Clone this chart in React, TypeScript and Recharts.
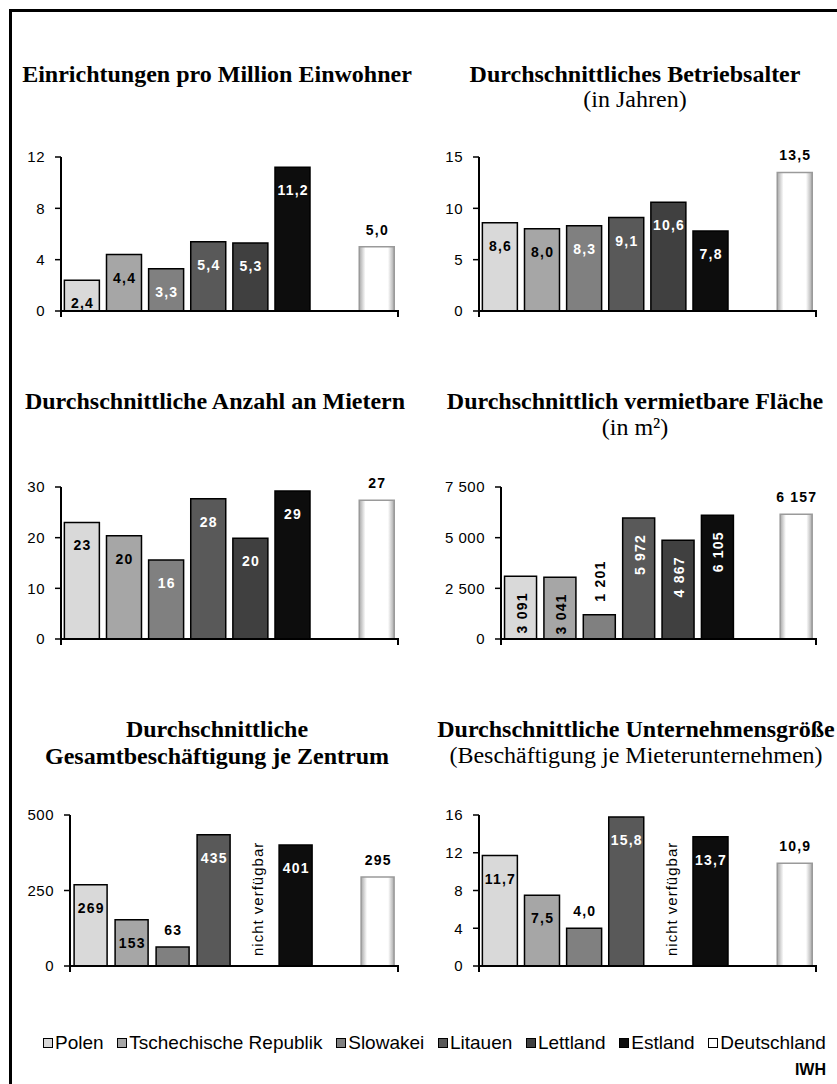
import React from 'react';
import { BarChart, Bar, XAxis, YAxis, Cell, LabelList, ReferenceDot } from 'recharts';

// ---------- data ----------
const categories = ['Polen', 'Tschechische Republik', 'Slowakei', 'Litauen', 'Lettland', 'Estland', '_leer', 'Deutschland'];
const legendLabels = ['Polen', 'Tschechische Republik', 'Slowakei', 'Litauen', 'Lettland', 'Estland', 'Deutschland'];

const einrichtungen = [2.4, 4.4, 3.3, 5.4, 5.3, 11.2, null, 5.0];
const betriebsalter = [8.6, 8.0, 8.3, 9.1, 10.6, 7.8, null, 13.5];
const mieter = [23.0, 20.4, 15.6, 27.7, 19.9, 29.2, null, 27.4];
const flaeche = [3091, 3041, 1201, 5972, 4867, 6105, null, 6157];
const beschaeftigung = [269, 153, 63, 435, null, 401, null, 295];
const unternehmensgroesse = [11.7, 7.5, 4.0, 15.8, null, 13.7, null, 10.9];

const ticksEinrichtungen = [0, 4, 8, 12];
const ticksBetriebsalter = [0, 5, 10, 15];
const ticksMieter = [0, 10, 20, 30];
const ticksFlaeche = [0, 2500, 5000, 7500];
const ticksBeschaeftigung = [0, 250, 500];
const ticksUnternehmen = [0, 4, 8, 12, 16];

const naText = 'nicht verfügbar';

// ---------- styles ----------
const barColors = ['#d9d9d9', '#a6a6a6', '#808080', '#595959', '#404040', '#0d0d0d', '#ffffff', '#ffffff'];
const SANS = "'Liberation Sans', Arial, sans-serif";
const SERIF = "'Liberation Serif', 'Times New Roman', serif";

const fmt1 = (v: number) => v.toFixed(1).replace('.', ',');
const fmt0 = (v: number) => String(Math.round(v));
const fmtK = (v: number) => String(Math.round(v)).replace(/\B(?=(\d{3})+(?!\d))/g, ' ');

type ChartProps = {
  id: string;
  values: (number | null)[];
  max: number;
  ticks: number[];
  axisX: number;
  plotRight: number;
  plotTop: number;
  plotBottom: number;
  tickGap: number;
  catGap: string;
  fmt: (v: number) => string;
  tickFmt?: (v: number) => string;
  outside: number[];
  vertical?: number[];
  naIndex?: number;
};

function SmallChart(p: ChartProps) {
  const yw = 60, topM = 40, rightM = 10, bottomH = 20;
  const plotW = p.plotRight - p.axisX;
  const plotH = p.plotBottom - p.plotTop;
  const width = yw + plotW + rightM;
  const height = topM + plotH + bottomH;
  const data = categories.map((name, i) => ({ name, v: p.values[i] }));
  const band = plotW / categories.length;
  const gid = `grad-${p.id}`;
  const vertical = p.vertical || [];

  const edgeTick = (tp: any) => {
    const { x, y, index, payload } = tp;
    const half = payload && payload.offset ? payload.offset : band / 2;
    if (index === 0) return <line x1={x - half} x2={x - half} y1={y - 1} y2={y + 6} stroke="#000" strokeWidth={2} />;
    if (index === categories.length - 1)
      return <line x1={x + half} x2={x + half} y1={y - 1} y2={y + 6} stroke="#000" strokeWidth={2} />;
    return <g />;
  };

  const renderLabel = (lp: any) => {
    const vb = lp.viewBox && lp.viewBox.width != null ? lp.viewBox : lp;
    const x = Number(vb.x), y = Number(vb.y), w = Number(vb.width);
    const value = lp.value;
    if (value == null || isNaN(x)) return null;
    const idx = p.values.indexOf(Number(value));
    const out = p.outside.includes(idx);
    const color = out || idx <= 1 ? '#000' : '#fff';
    const cx = x + w / 2;
    const common = { fill: color, fontSize: 14, fontWeight: 700, fontFamily: SANS, letterSpacing: 1.2 } as any;
    if (vertical.includes(idx)) {
      const tx = cx + 6;
      const ty = out ? y - 13 : y + 16;
      return (
        <text key={`l${idx}`} x={tx} y={ty} transform={`rotate(-90 ${tx} ${ty})`} textAnchor={out ? 'start' : 'end'} {...common}>
          {p.fmt(Number(value))}
        </text>
      );
    }
    return (
      <text key={`l${idx}`} x={cx + 0.6} y={out ? y - 12 : y + 28} textAnchor="middle" {...common}>
        {p.fmt(Number(value))}
      </text>
    );
  };

  const naShape = (sp: any) => {
    const tx = sp.cx + 8, ty = sp.cy - 10;
    return (
      <text x={tx} y={ty} transform={`rotate(-90 ${tx} ${ty})`} textAnchor="start" fill="#000" fontSize={15} letterSpacing={1} fontFamily={SANS}>
        {naText}
      </text>
    );
  };

  return (
    <div style={{ position: 'absolute', left: p.axisX - yw, top: p.plotTop - topM }}>
      <BarChart width={width} height={height} data={data} margin={{ top: topM, right: rightM, left: 0, bottom: 0 }} barCategoryGap={p.catGap}>
        <defs>
          <linearGradient id={gid} x1="0" y1="0" x2="1" y2="0">
            <stop offset="0%" stopColor="#a8a8a8" />
            <stop offset="18%" stopColor="#ffffff" />
            <stop offset="82%" stopColor="#ffffff" />
            <stop offset="100%" stopColor="#a8a8a8" />
          </linearGradient>
        </defs>
        <XAxis dataKey="name" type="category" interval={0} height={bottomH} tickLine={false} tickSize={0} tickMargin={0}
          axisLine={{ stroke: '#000', strokeWidth: 2 }} tick={edgeTick} />
        <YAxis type="number" domain={[0, p.max]} ticks={p.ticks} interval={0} width={yw} tickSize={6} tickMargin={p.tickGap}
          tickLine={{ stroke: '#000', strokeWidth: 1.5 }} axisLine={{ stroke: '#000', strokeWidth: 2 }}
          tick={{ fill: '#000', fontSize: 15, fontFamily: SANS, letterSpacing: 0.5 } as any} tickFormatter={p.tickFmt} allowDataOverflow />
        <Bar dataKey="v" isAnimationActive={false} strokeWidth={1.5}>
          {data.map((d, i) => (
            <Cell key={i} fill={i === 7 ? `url(#${gid})` : barColors[i]} stroke={i === 7 ? '#9a9a9a' : '#000'} />
          ))}
          <LabelList dataKey="v" content={renderLabel} />
        </Bar>
        {p.naIndex != null && (
          <ReferenceDot x={categories[p.naIndex]} y={0} r={0} ifOverflow="visible" shape={naShape} />
        )}
      </BarChart>
    </div>
  );
}

type TitleLine = { text: string; bold: boolean; y: number };
const titles: { cx: number; lines: TitleLine[] }[] = [
  { cx: 217, lines: [{ text: 'Einrichtungen pro Million Einwohner', bold: true, y: 82 }] },
  { cx: 635, lines: [{ text: 'Durchschnittliches Betriebsalter', bold: true, y: 82 }, { text: '(in Jahren)', bold: false, y: 107 }] },
  { cx: 215, lines: [{ text: 'Durchschnittliche Anzahl an Mietern', bold: true, y: 409 }] },
  { cx: 635, lines: [{ text: 'Durchschnittlich vermietbare Fläche', bold: true, y: 409 }, { text: '(in m²)', bold: false, y: 435 }] },
  { cx: 217, lines: [{ text: 'Durchschnittliche', bold: true, y: 737 }, { text: 'Gesamtbeschäftigung je Zentrum', bold: true, y: 764 }] },
  { cx: 636, lines: [{ text: 'Durchschnittliche Unternehmensgröße', bold: true, y: 737 }, { text: '(Beschäftigung je Mieterunternehmen)', bold: false, y: 763 }] },
];

export default function App() {
  const legendColors = [barColors[0], barColors[1], barColors[2], barColors[3], barColors[4], barColors[5], '#ffffff'];
  return (
    <div style={{ position: 'absolute', left: 0, top: 0, width: 837, height: 1084, overflow: 'hidden', background: '#fff' }}>
      <div style={{ position: 'absolute', left: 9, top: 9, width: 900, height: 1200, borderLeft: '3px solid #000', borderTop: '3px solid #000' }} />
      <svg width={837} height={1084} style={{ position: 'absolute', left: 0, top: 0 }}>
        {titles.map((t, i) =>
          t.lines.map((l, j) => (
            <text key={`${i}-${j}`} x={t.cx} y={l.y} textAnchor="middle" fontFamily={SERIF} fontSize={24} fontWeight={l.bold ? 700 : 400} fill="#000">
              {l.text}
            </text>
          ))
        )}
        <text x={826} y={1075} textAnchor="end" fontFamily={SANS} fontSize={16} fontWeight={700} fill="#000">IWH</text>
      </svg>
      <div style={{ position: 'absolute', left: 43, width: 783, top: 1031, height: 24, display: 'flex', justifyContent: 'space-between', alignItems: 'center', fontFamily: SANS, fontSize: 19, whiteSpace: 'nowrap', color: '#000' }}>
        {legendLabels.map((l, i) => (
          <div key={l} style={{ display: 'flex', alignItems: 'center' }}>
            <span style={{ display: 'inline-block', width: 8, height: 8, border: '1px solid #000', background: legendColors[i], marginRight: 2 }} />
            <span>{l}</span>
          </div>
        ))}
      </div>
      <SmallChart id="c1" values={einrichtungen} max={12} ticks={ticksEinrichtungen} axisX={61} plotRight={398} plotTop={157} plotBottom={311}
        tickGap={10} catGap="8%" fmt={fmt1} outside={[7]} />
      <SmallChart id="c2" values={betriebsalter} max={15} ticks={ticksBetriebsalter} axisX={479} plotRight={816} plotTop={157} plotBottom={311}
        tickGap={10} catGap="8%" fmt={fmt1} outside={[7]} />
      <SmallChart id="c3" values={mieter} max={30} ticks={ticksMieter} axisX={61} plotRight={398} plotTop={487} plotBottom={639}
        tickGap={10} catGap="8%" fmt={fmt0} outside={[7]} />
      <SmallChart id="c4" values={flaeche} max={7500} ticks={ticksFlaeche} axisX={501} plotRight={816} plotTop={487} plotBottom={639}
        tickGap={10} catGap="9%" fmt={fmtK} tickFmt={fmtK} outside={[2, 7]} vertical={[0, 1, 2, 3, 4, 5]} />
      <SmallChart id="c5" values={beschaeftigung} max={500} ticks={ticksBeschaeftigung} axisX={70} plotRight={398} plotTop={815} plotBottom={966}
        tickGap={10} catGap="10%" fmt={fmt0} outside={[2, 7]} naIndex={4} />
      <SmallChart id="c6" values={unternehmensgroesse} max={16} ticks={ticksUnternehmen} axisX={479} plotRight={816} plotTop={815} plotBottom={966}
        tickGap={10} catGap="8%" fmt={fmt1} outside={[2, 7]} naIndex={4} />
    </div>
  );
}
